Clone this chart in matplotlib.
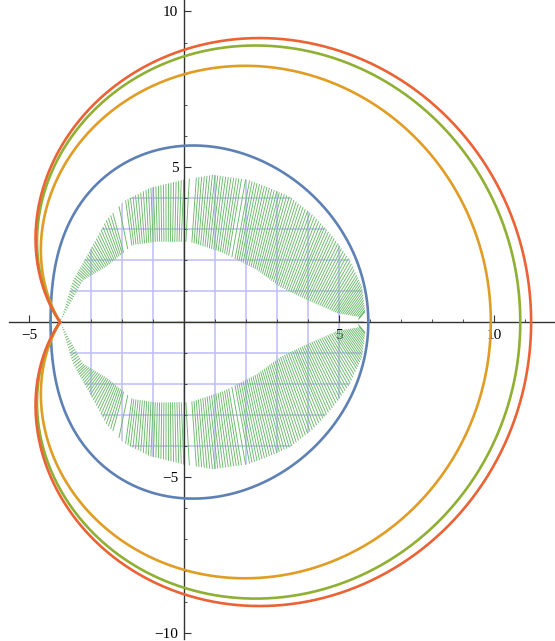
import numpy as np
import matplotlib
matplotlib.use("Agg")
import matplotlib.pyplot as plt
from matplotlib.path import Path
from matplotlib.patches import PathPatch
from matplotlib.collections import LineCollection
from matplotlib.ticker import MultipleLocator, FixedLocator

plt.rcParams['font.family'] = ['Liberation Serif', 'DejaVu Serif']

# ---------------- values ----------------
cusp_r = 4.0                          # the three outer curves meet at (-4, 0)
outer_r_right = [9.9, 10.85, 11.2]    # orange, green, red: where they cross +x
outer_shape_power = 2.07
outer_colors = ["#E19C24", "#8FB032", "#EB6235"]

# blue closed curve: polar samples (degrees, radius)
blue_theta_deg = [0, 14.3, 27.6, 45.6, 66.8, 84.9, 130.4, 162.3, 180]
blue_r = [5.87, 5.91, 5.93, 5.96, 5.69, 5.63, 5.17, 4.43, 4.27]
blue_color = "#5E81B5"

# green hatched band (upper half, mirrored below), from the right tip to the cusp
band_inner_x = [5.62, 5.68, 4.94, 3.97, 3.10, 2.35, 1.26, 0.20, -0.88, -1.65, -2.50, -3.25, -3.98]
band_inner_y = [0.08, 0.16, 0.29, 0.71, 1.13, 1.68, 2.23, 2.58, 2.59, 2.48, 1.79, 1.35, 0.02]
band_outer_x = [5.80, 5.84, 5.74, 5.35, 4.81, 4.16, 3.42, 2.68, 2.06, 0.94, -0.03, -1.10,
                -1.96, -2.50, -3.03, -3.58, -3.98]
band_outer_y = [0.08, 0.39, 1.13, 2.00, 2.74, 3.45, 4.03, 4.35, 4.58, 4.74, 4.58, 4.32,
                3.88, 3.29, 2.32, 1.35, 0.02]
# hatch groups along the inner edge: (start, end, count)
hatch_groups = [(0.0, 0.08, 16), (0.085, 0.20, 20), (0.205, 0.40, 32), (0.41, 0.41, 1),
                (0.42, 0.53, 18), (0.547, 0.547, 1), (0.56, 0.70, 24), (0.715, 0.715, 1),
                (0.73, 0.86, 24), (0.865, 1.0, 20)]
# hatch direction (degrees from vertical, + leans to +x) along the inner edge
hatch_dir_t = [0.0, 0.08, 0.168, 0.333, 0.45, 0.55, 0.65, 0.70, 0.79, 0.87, 0.95, 1.0]
hatch_dir_deg = [40, 33, 25, 14, 8, 3, -3, -8, -30, -50, -60, -65]
hatch_color = "#6AB86A"

grid_x = [-3, -2, -1, 0, 1, 2, 3, 4, 5]
grid_y = [-4, -3, -2, -1, 0, 1, 2, 3, 4]
grid_color = "#BDBDFB"

x_major = [-5, 5, 10]
y_major = [-10, -5, 5, 10]

# ---------------- figure ----------------
fig = plt.figure(figsize=(5.55, 6.41), dpi=100)
ax = fig.add_axes([0, 0, 1, 1])
ax.set_xlim(-5.935, 11.97)
ax.set_ylim(-10.27, 10.37)

# clip region = outer edge of the green band
ox = np.array(band_outer_x); oy = np.array(band_outer_y)
clip_xy = np.concatenate([np.column_stack([ox, oy]), np.column_stack([ox[::-1], -oy[::-1]])])
clip_patch = PathPatch(Path(clip_xy, closed=True), transform=ax.transData,
                       facecolor='none', edgecolor='none')

vlines = [[(gx, -6), (gx, 6)] for gx in grid_x]
hlines = [[(-7, gy), (7, gy)] for gy in grid_y]
glc = LineCollection(vlines + hlines, colors=grid_color, linewidths=1.1, zorder=1)
ax.add_collection(glc)
glc.set_clip_path(clip_patch)


def arc_points(xs, ys, t):
    xs = np.asarray(xs); ys = np.asarray(ys)
    d = np.hypot(np.diff(xs), np.diff(ys))
    s = np.concatenate([[0], np.cumsum(d)]) / d.sum()
    return np.interp(t, s, xs), np.interp(t, s, ys)


def ray_hit(px, py, dx, dy, xs, ys):
    best = None
    for j in range(len(xs) - 1):
        ex, ey = xs[j + 1] - xs[j], ys[j + 1] - ys[j]
        den = dx * ey - dy * ex
        if abs(den) < 1e-12:
            continue
        wx, wy = xs[j] - px, ys[j] - py
        s = (wx * ey - wy * ex) / den
        u = (wx * dy - wy * dx) / den
        if s > 1e-9 and -1e-9 <= u <= 1 + 1e-9:
            if best is None or s < best:
                best = s
    return best


ts = np.concatenate([np.linspace(a, b, n) if n > 1 else np.array([a]) for a, b, n in hatch_groups])
ix, iy = arc_points(band_inner_x, band_inner_y, ts)
ang = np.radians(np.interp(ts, hatch_dir_t, hatch_dir_deg))
segs = []
for px, py, a in zip(ix, iy, ang):
    dx, dy = np.sin(a), np.cos(a)
    s = ray_hit(px, py, dx, dy, band_outer_x, band_outer_y)
    if s is None:
        continue
    qx, qy = px + s * dx, py + s * dy
    segs.append([(px, py), (qx, qy)])
    segs.append([(px, -py), (qx, -qy)])
ax.add_collection(LineCollection(segs, colors=hatch_color, linewidths=0.65, zorder=2))

# blue curve
bt = np.radians(blue_theta_deg)
A = np.column_stack([np.cos(k * bt) for k in range(4)])
coef = np.linalg.lstsq(A, np.array(blue_r), rcond=None)[0]
th = np.linspace(-np.pi, np.pi, 721)
rb = sum(c * np.cos(k * th) for k, c in enumerate(coef))
ax.plot(rb * np.cos(th), rb * np.sin(th), color=blue_color, lw=1.9, zorder=3)

# outer cusp curves
for r0, col in zip(outer_r_right, outer_colors):
    r = r0 * (cusp_r / r0) ** (np.abs(th / np.pi) ** outer_shape_power)
    ax.plot(r * np.cos(th), r * np.sin(th), color=col, lw=1.9, zorder=3)

# axes through the origin
for s in ['top', 'right']:
    ax.spines[s].set_visible(False)
ax.spines['left'].set_position(('data', 0))
ax.spines['bottom'].set_position(('data', 0))
ax.spines['left'].set_bounds(-10.2, 10.37)
ax.spines['bottom'].set_bounds(-5.65, 11.97)
for s in ['left', 'bottom']:
    ax.spines[s].set_color('#333333')
    ax.spines[s].set_linewidth(1.0)
    ax.spines[s].set_zorder(2.5)
ax.xaxis.set_major_locator(FixedLocator(x_major))
ax.yaxis.set_major_locator(FixedLocator(y_major))
ax.xaxis.set_minor_locator(MultipleLocator(1))
ax.yaxis.set_minor_locator(MultipleLocator(1))
ax.tick_params(which='major', direction='in', length=5, width=0.8, color='#333333',
               labelsize=11)
ax.tick_params(axis='x', which='major', pad=5)
ax.tick_params(axis='y', which='major', pad=4)
ax.tick_params(which='minor', direction='in', length=2.5, width=0.6, color='#333333')
ax.patch.set_alpha(0)
fig.savefig("out.png", dpi=100, facecolor='white')
